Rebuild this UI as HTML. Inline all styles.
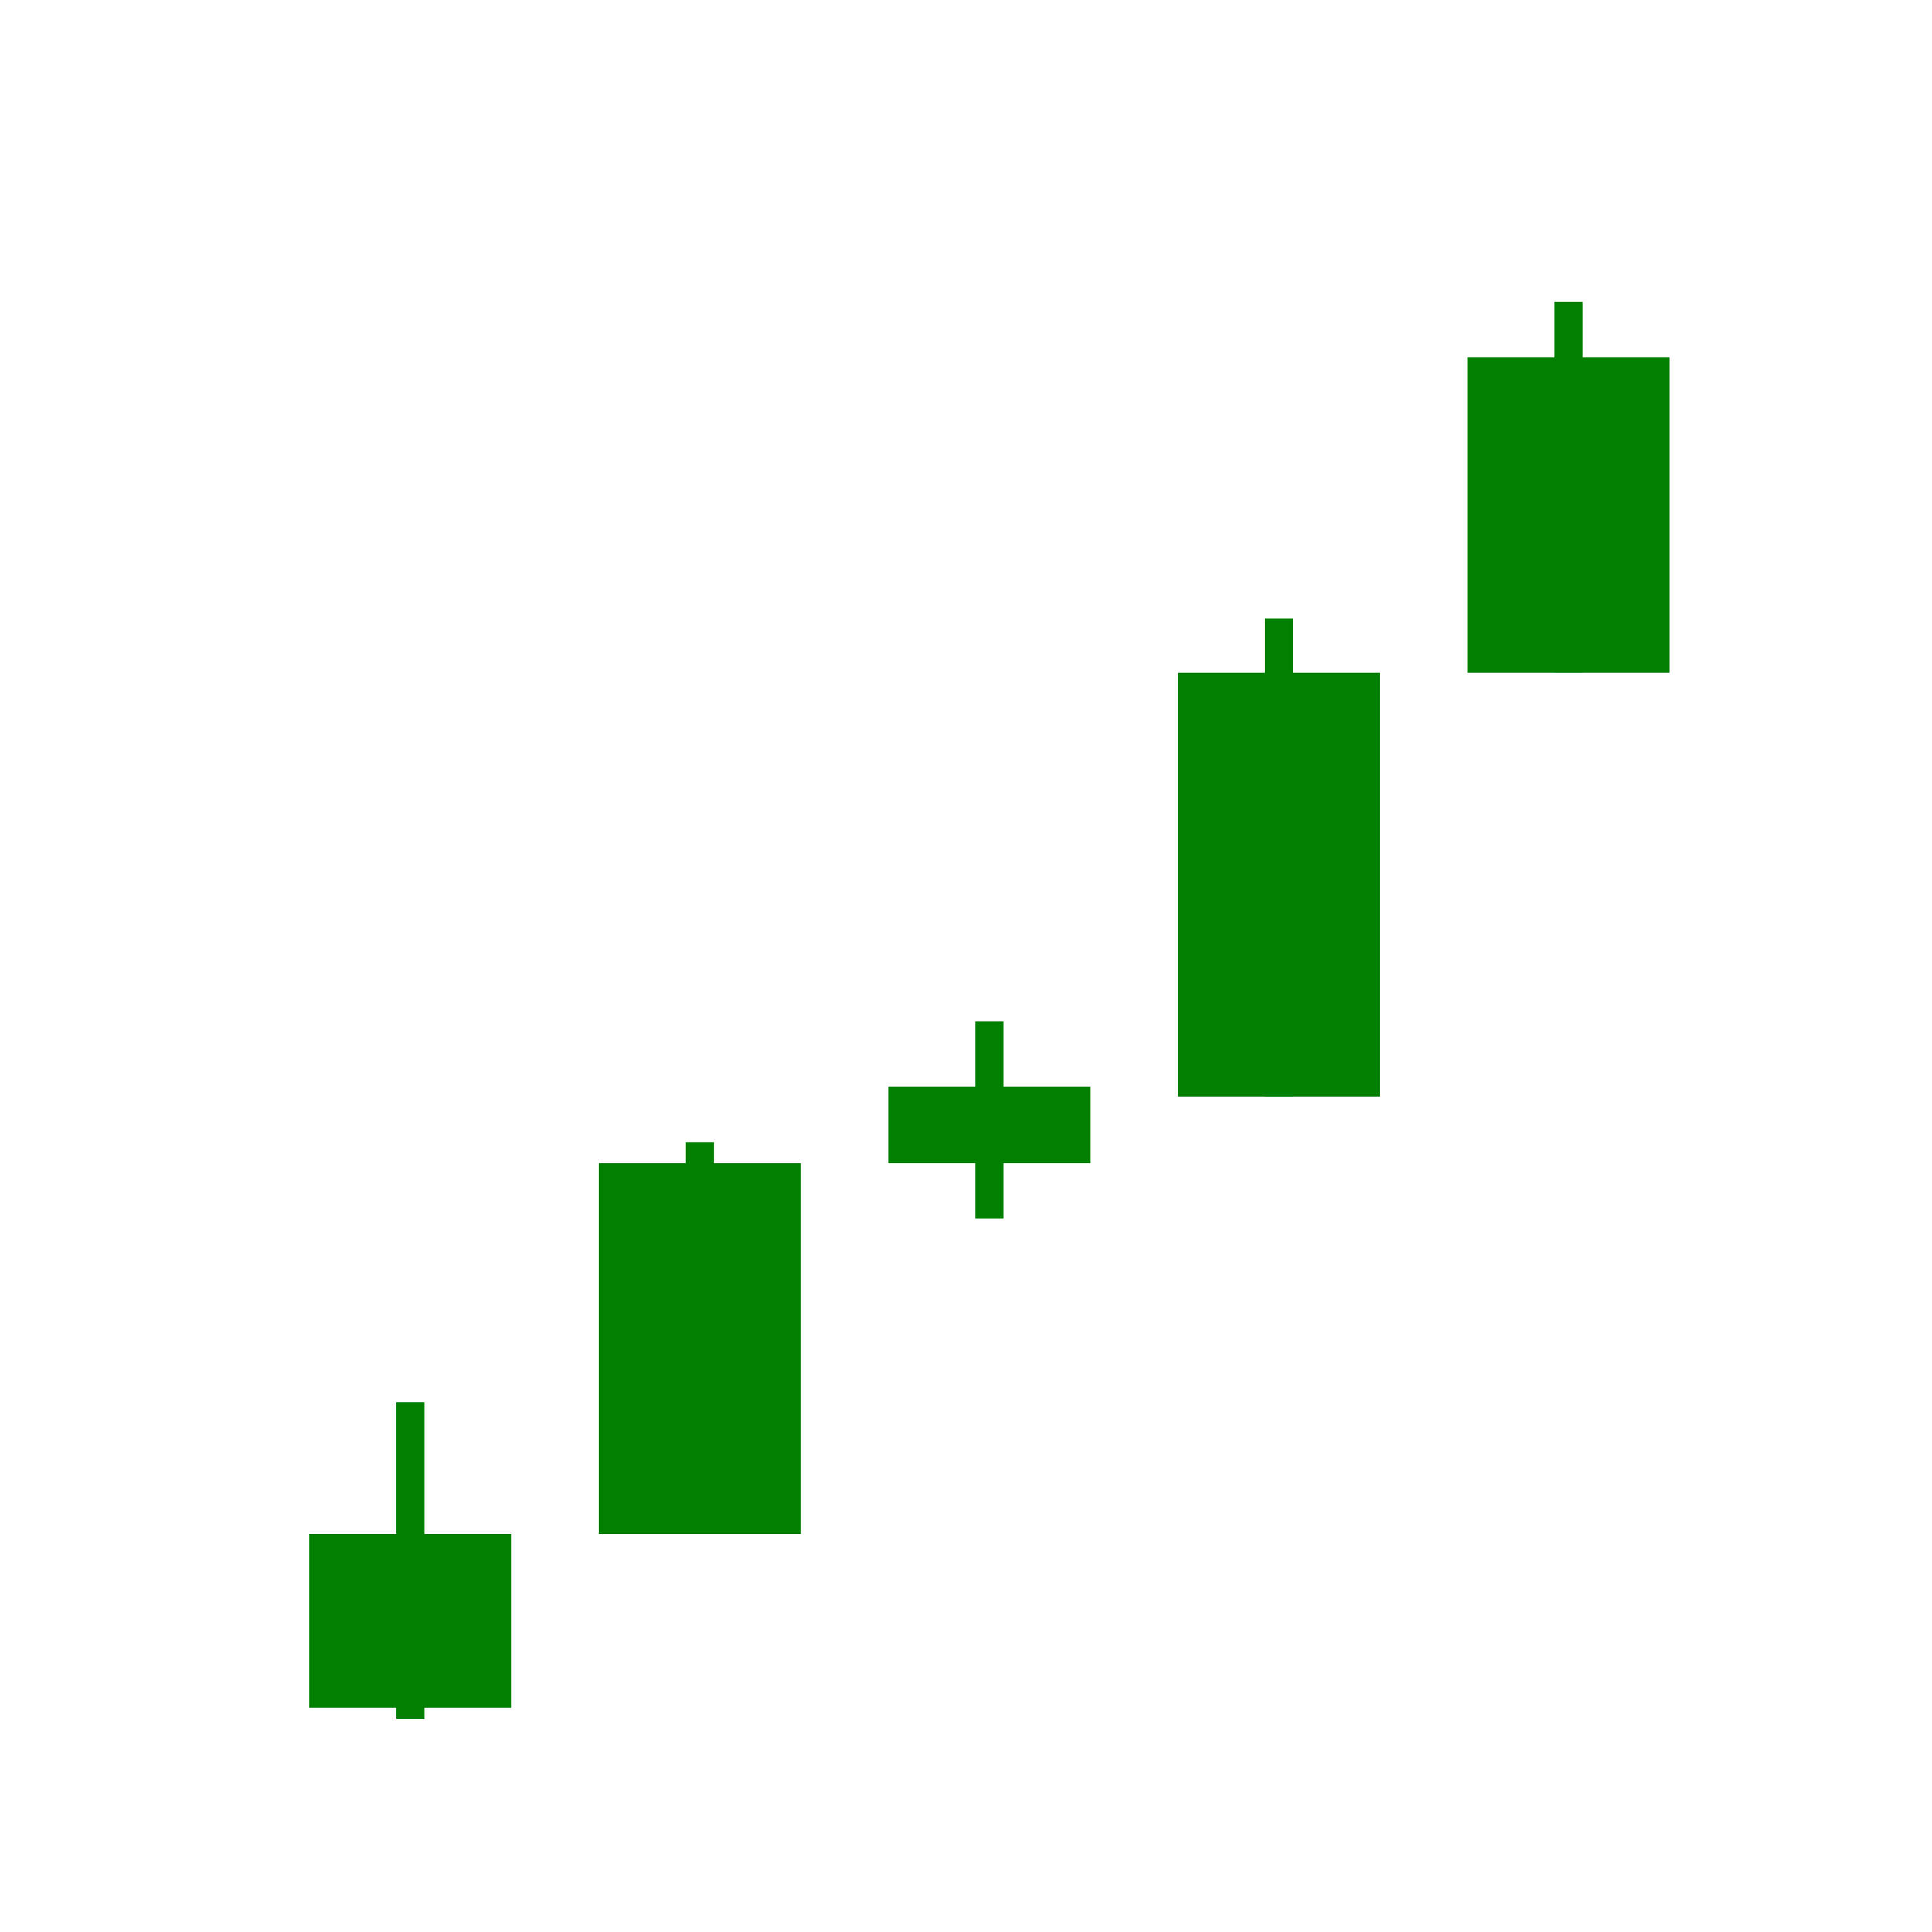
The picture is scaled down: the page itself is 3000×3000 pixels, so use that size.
<!DOCTYPE html>
<html>
<head>
<meta charset="utf-8">
<style>
  html, body { margin: 0; padding: 0; background: #fff; }
  svg { display: block; }
</style>
</head>
<body>
<svg id="chart" width="3000" height="3000" viewBox="0 0 3000 3000" xmlns="http://www.w3.org/2000/svg">
  <rect x="0" y="0" width="3000" height="3000" fill="#ffffff"/>
  <g id="candles"></g>
</svg>
<script>
const categories = ["c1", "c2", "c3", "c4", "c5"];
const openValues = [1.4, 15.5, 45.6, 51.0, 85.4];
const closeValues = [15.5, 45.6, 51.8, 85.4, 111.0];
const highValues = [26.2, 47.3, 57.1, 89.8, 115.5];
const lowValues = [0.5, 15.5, 41.1, 51.0, 85.4];

const S = 3000 / 1568;
function xScale(i) { return (333 + i * 235) * S; }
function yScale(v) { return (1400 - v * 10) * S; }
const bodyW = 164 * S;
const wickW = 23 * S;
const color = "#007f00";
const ns = "http://www.w3.org/2000/svg";
const g = document.getElementById("candles");

categories.forEach((c, i) => {
  const cx = xScale(i);
  const o = openValues[i], cl = closeValues[i], h = highValues[i], l = lowValues[i];

  const wick = document.createElementNS(ns, "rect");
  wick.setAttribute("x", cx - wickW / 2);
  wick.setAttribute("y", yScale(h));
  wick.setAttribute("width", wickW);
  wick.setAttribute("height", yScale(l) - yScale(h));
  wick.setAttribute("fill", color);
  
  
  g.appendChild(wick);

  const top = Math.max(o, cl), bot = Math.min(o, cl);
  const body = document.createElementNS(ns, "rect");
  body.setAttribute("x", cx - bodyW / 2);
  body.setAttribute("y", yScale(top));
  body.setAttribute("width", bodyW);
  body.setAttribute("height", yScale(bot) - yScale(top));
  body.setAttribute("fill", color);
  
  
  g.appendChild(body);
});
</script>
</body>
</html>
